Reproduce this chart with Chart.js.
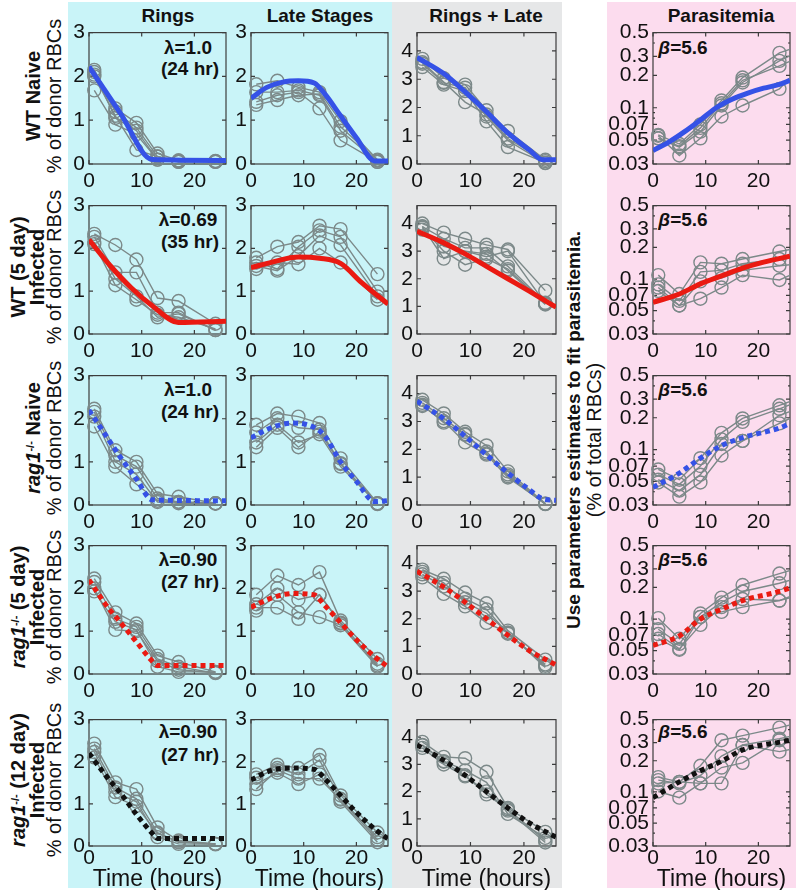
<!DOCTYPE html>
<html>
<head>
<meta charset="utf-8">
<script src="https://cdn.jsdelivr.net/npm/chart.js@4.4.1/dist/chart.umd.min.js"></script>
<style>
body { margin:0; width:796px; height:890px; position:relative; background:#fff; overflow:hidden;
  font-family:"Liberation Sans", Arial, sans-serif; color:#111; }
.bg { position:absolute; top:2px; height:886px; }
.txt { position:absolute; white-space:nowrap; transform:translate(-50%,-50%); font-size:20px; line-height:1; }
.rot { transform:translate(-50%,-50%) rotate(-90deg); }
.b { font-weight:bold; }
.ttl { font-weight:bold; font-size:19px; }
.ann { font-weight:bold; font-size:19px; }
sup { font-size:11px; vertical-align:6px; }
canvas { position:absolute; }
</style>
</head>
<body>
<div class="bg" style="left:68px;width:324px;background:#c9f4f8"></div>
<div class="bg" style="left:392px;width:170px;background:#e6e7e8"></div>
<div class="bg" style="left:607px;width:189px;background:#fcdcee"></div>

<!-- column titles -->
<div class="txt ttl" style="left:168px;top:15px">Rings</div>
<div class="txt ttl" style="left:320px;top:15px">Late Stages</div>
<div class="txt ttl" style="left:486px;top:15px">Rings + Late</div>
<div class="txt ttl" style="left:721px;top:15px">Parasitemia</div>

<!-- row labels -->
<div class="txt rot b" style="left:33px;top:96px">WT Naive</div>
<div class="txt rot" style="left:54px;top:96px">% of donor RBCs</div>

<div class="txt rot b" style="left:18px;top:267px">WT (5 day)</div>
<div class="txt rot b" style="left:37px;top:267px">Infected</div>
<div class="txt rot" style="left:54px;top:267px">% of donor RBCs</div>

<div class="txt rot b" style="left:33px;top:438px"><i>rag1</i><sup>-/-</sup> Naive</div>
<div class="txt rot" style="left:54px;top:438px">% of donor RBCs</div>

<div class="txt rot b" style="left:18px;top:607px"><i>rag1</i><sup>-/-</sup> (5 day)</div>
<div class="txt rot b" style="left:37px;top:607px">Infected</div>
<div class="txt rot" style="left:54px;top:607px">% of donor RBCs</div>

<div class="txt rot b" style="left:18px;top:780px"><i>rag1</i><sup>-/-</sup> (12 day)</div>
<div class="txt rot b" style="left:37px;top:780px">Infected</div>
<div class="txt rot" style="left:54px;top:780px">% of donor RBCs</div>

<div class="txt rot b" style="left:573px;top:430px;font-size:19px">Use parameters estimates to fit parasitemia.</div>
<div class="txt rot" style="left:594px;top:440px">(% of total RBCs)</div>

<!-- lambda / beta annotations -->
<div class="txt ann" style="left:188px;top:47px">λ=1.0</div>
<div class="txt ann" style="left:190px;top:68px">(24 hr)</div>
<div class="txt ann" style="left:188px;top:219px">λ=0.69</div>
<div class="txt ann" style="left:190px;top:241px">(35 hr)</div>
<div class="txt ann" style="left:188px;top:389px">λ=1.0</div>
<div class="txt ann" style="left:190px;top:411px">(24 hr)</div>
<div class="txt ann" style="left:188px;top:559px">λ=0.90</div>
<div class="txt ann" style="left:190px;top:581px">(27 hr)</div>
<div class="txt ann" style="left:188px;top:731px">λ=0.90</div>
<div class="txt ann" style="left:190px;top:754px">(27 hr)</div>

<div class="txt ann" style="left:683px;top:47px"><i>β</i>=5.6</div>
<div class="txt ann" style="left:683px;top:219px"><i>β</i>=5.6</div>
<div class="txt ann" style="left:683px;top:389px"><i>β</i>=5.6</div>
<div class="txt ann" style="left:683px;top:559px"><i>β</i>=5.6</div>
<div class="txt ann" style="left:683px;top:731px"><i>β</i>=5.6</div>

<script>
// sampling times (hours) and axis ticks
const TIMES = [1, 5, 9, 13, 17, 24];
const TIMES_PARA = [1, 5, 9, 13, 17, 24, 28];
const X_TICKS = [0, 10, 20];
const Y_TICKS_STAGE = [0, 1, 2, 3];
const Y_TICKS_TOTAL = [0, 1, 2, 3, 4];
const Y_TICKS_PARA = [0.03, 0.05, 0.07, 0.1, 0.2, 0.3, 0.5];
const Y_MINOR_PARA = [0.04, 0.06, 0.08, 0.09, 0.4];

// ---- WT naive ----
const wtNaiveRings = [
  [2.15, 1.27, 0.94, 0.24, 0.08, 0.06],
  [2.04, 1.20, 0.83, 0.17, 0.05, 0.06],
  [2.10, 1.05, 0.76, 0.10, 0.08, 0.05],
  [1.68, 0.90, 0.68, 0.10, 0.05, 0.07],
  [2.00, 1.10, 0.32, 0.17, 0.06, 0.05]
];
const wtNaiveLate = [
  [1.82, 1.90, 1.75, 1.64, 0.98, 0.10],
  [1.64, 1.64, 1.68, 1.57, 0.76, 0.05],
  [1.42, 1.57, 1.64, 1.27, 0.54, 0.05],
  [1.35, 1.46, 1.57, 1.60, 0.85, 0.08]
];
const wtNaiveTotal = [
  [3.72, 3.04, 2.81, 1.90, 1.17, 0.15],
  [3.55, 2.87, 2.70, 1.68, 0.83, 0.03],
  [3.43, 2.81, 2.58, 1.51, 0.60, 0.05],
  [3.60, 2.90, 2.19, 1.75, 0.90, 0.10]
];
const wtNaivePara = [
  [0.056, 0.046, 0.070, 0.117, 0.191, 0.324, 0.38],
  [0.052, 0.043, 0.060, 0.105, 0.172, 0.273, 0.34],
  [0.055, 0.036, 0.052, 0.083, 0.105, 0.150, 0.24],
  [0.052, 0.044, 0.065, 0.110, 0.180, 0.245, 0.30]
];
const wtNaiveFit = {
  rings: [[0, 2.22], [6, 1.15], [12, 0.1], [26, 0.08]],
  late: [[0, 1.5], [3, 1.75], [6, 1.87], [9, 1.9], [12, 1.85], [14, 1.6], [17, 1.1], [20, 0.6], [23.5, 0.07], [26, 0.07]],
  total: [[0, 3.77], [5, 3.2], [9, 2.55], [13, 1.85], [17, 1.1], [21, 0.5], [23.5, 0.15], [26, 0.15]],
  para: [[0, 0.04], [3, 0.048], [6, 0.06], [9, 0.077], [12, 0.1], [15, 0.12], [18, 0.137], [21, 0.152], [24, 0.165], [26, 0.18]]
};

// ---- WT 5 day infected ----
const wt5Rings = [
  [2.34, 2.08, 1.74, 0.84, 0.77, 0.24],
  [2.27, 1.44, 1.44, 0.50, 0.50, 0.09],
  [2.15, 1.29, 0.88, 0.39, 0.47, 0.09],
  [2.10, 1.14, 0.80, 0.45, 0.39, 0.12]
];
const wt5Late = [
  [1.78, 2.04, 2.15, 2.53, 2.45, 1.40],
  [1.67, 1.52, 2.04, 2.42, 2.27, 0.99],
  [1.59, 1.48, 1.82, 2.30, 2.08, 0.88],
  [1.52, 1.67, 1.63, 2.00, 1.67, 0.80]
];
const wt5Total = [
  [4.00, 3.67, 3.45, 3.23, 3.06, 1.57],
  [3.89, 3.45, 3.12, 3.12, 2.45, 1.13],
  [3.78, 3.17, 3.00, 2.90, 2.29, 1.07],
  [3.85, 3.00, 2.51, 2.73, 2.35, 1.10],
  [3.90, 2.73, 3.00, 2.80, 3.00, 1.10]
];
const wt5Para = [
  [0.109, 0.072, 0.144, 0.140, 0.155, 0.183, 0.20],
  [0.089, 0.062, 0.117, 0.121, 0.140, 0.155, 0.17],
  [0.083, 0.056, 0.095, 0.102, 0.121, 0.134, 0.14],
  [0.077, 0.056, 0.065, 0.083, 0.109, 0.098, 0.12]
];
const wt5Fit = {
  rings: [[0, 2.2], [4, 1.6], [8, 1.08], [12, 0.66], [17, 0.27], [26, 0.3]],
  late: [[0, 1.55], [4, 1.68], [9, 1.8], [13, 1.77], [17, 1.65], [21, 1.2], [26, 0.7]],
  total: [[0, 3.72], [5, 3.3], [9, 2.9], [13, 2.45], [17, 2.0], [21, 1.55], [26, 0.97]],
  para: [[0, 0.06], [5, 0.072], [9, 0.09], [13, 0.107], [17, 0.127], [21, 0.145], [26, 0.165]]
};

// ---- rag1-/- naive ----
const ragNaiveRings = [
  [2.23, 1.27, 1.00, 0.26, 0.19, 0.04],
  [2.16, 1.15, 0.89, 0.15, 0.07, 0.04],
  [2.05, 1.00, 0.71, 0.07, 0.04, 0.03],
  [1.82, 0.89, 0.48, 0.10, 0.07, 0.04]
];
const ragNaiveLate = [
  [1.86, 2.12, 2.05, 1.90, 1.08, 0.04],
  [1.68, 2.01, 1.79, 1.75, 0.97, 0.02],
  [1.45, 1.86, 1.45, 1.64, 0.89, 0.03],
  [1.34, 1.79, 1.34, 1.70, 0.95, 0.04]
];
const ragNaiveTotal = [
  [3.78, 3.29, 2.63, 2.14, 1.21, 0.05],
  [3.67, 3.12, 2.52, 1.92, 1.04, 0.03],
  [3.56, 3.01, 2.25, 1.81, 0.99, 0.05],
  [3.60, 2.96, 2.55, 1.85, 1.10, 0.04]
];
const ragNaivePara = [
  [0.065, 0.052, 0.083, 0.144, 0.197, 0.262, 0.31],
  [0.058, 0.047, 0.070, 0.125, 0.183, 0.243, 0.29],
  [0.052, 0.041, 0.058, 0.113, 0.121, 0.211, 0.25],
  [0.049, 0.036, 0.049, 0.088, 0.121, 0.177, 0.22]
];
const ragNaiveFit = {
  rings: [[0, 2.2], [3, 1.65], [6, 1.1], [9, 0.6], [12, 0.12], [26, 0.1]],
  late: [[0, 1.56], [4, 1.8], [8, 1.9], [12, 1.8], [14, 1.6], [17, 1.0], [20, 0.55], [23.5, 0.08], [26, 0.1]],
  total: [[0, 3.73], [5, 3.1], [9, 2.47], [13, 1.8], [17, 1.15], [21, 0.55], [23.5, 0.22], [26, 0.17]],
  para: [[0, 0.044], [5, 0.06], [9, 0.083], [13, 0.109], [17, 0.13], [24, 0.16], [26, 0.177]]
};

// ---- rag1-/- 5 day infected ----
const rag5Rings = [
  [2.23, 1.44, 1.18, 0.43, 0.28, 0.05],
  [2.15, 1.29, 1.10, 0.35, 0.17, 0.02],
  [1.93, 1.22, 1.03, 0.17, 0.05, 0.05],
  [2.00, 1.03, 1.00, 0.30, 0.10, 0.03]
];
const rag5Late = [
  [1.85, 2.30, 2.08, 2.38, 1.25, 0.35],
  [1.63, 2.00, 1.74, 1.85, 1.18, 0.24],
  [1.48, 1.85, 1.44, 1.33, 1.14, 0.17],
  [1.55, 1.55, 1.29, 1.85, 1.20, 0.20]
];
const rag5Total = [
  [3.78, 3.45, 2.95, 2.56, 1.57, 0.52],
  [3.61, 3.17, 2.73, 2.34, 1.46, 0.35],
  [3.50, 2.90, 2.45, 1.85, 1.50, 0.24],
  [3.70, 3.30, 2.60, 2.20, 1.50, 0.30]
];
const rag5Para = [
  [0.102, 0.065, 0.113, 0.160, 0.211, 0.271, 0.31],
  [0.080, 0.058, 0.105, 0.144, 0.183, 0.219, 0.25],
  [0.072, 0.052, 0.088, 0.130, 0.155, 0.150, 0.18],
  [0.065, 0.051, 0.105, 0.117, 0.130, 0.150, 0.17]
];
const rag5Fit = {
  rings: [[0, 2.2], [3, 1.65], [6, 1.2], [9, 0.75], [12, 0.3], [13, 0.2], [26, 0.2]],
  late: [[0, 1.56], [4, 1.78], [8, 1.88], [12, 1.85], [14, 1.6], [17, 1.2], [20, 0.8], [24, 0.35], [26, 0.17]],
  total: [[0, 3.72], [5, 3.15], [9, 2.6], [13, 2.0], [17, 1.4], [21, 0.85], [26, 0.33]],
  para: [[0, 0.056], [5, 0.069], [9, 0.1], [13, 0.124], [17, 0.15], [24, 0.183], [26, 0.198]]
};

// ---- rag1-/- 12 day infected ----
const rag12Rings = [
  [2.43, 1.51, 1.35, 0.44, 0.13, 0.05],
  [2.31, 1.39, 1.12, 0.32, 0.09, 0.05],
  [2.23, 1.28, 1.05, 0.21, 0.05, 0.04],
  [2.10, 1.16, 0.95, 0.30, 0.10, 0.05]
];
const rag12Late = [
  [1.70, 1.93, 1.85, 2.16, 1.20, 0.32],
  [1.62, 1.85, 1.70, 2.04, 1.12, 0.21],
  [1.47, 1.74, 1.47, 1.70, 1.05, 0.09],
  [1.35, 1.80, 1.60, 1.60, 1.10, 0.15]
];
const rag12Total = [
  [3.83, 3.28, 3.23, 2.73, 1.40, 0.52],
  [3.72, 3.12, 2.78, 2.34, 1.18, 0.30],
  [3.61, 3.00, 2.56, 2.01, 1.30, 0.13],
  [3.70, 3.10, 2.60, 1.90, 1.35, 0.20]
];
const rag12Para = [
  [0.139, 0.125, 0.179, 0.316, 0.350, 0.418, 0.47],
  [0.130, 0.121, 0.144, 0.222, 0.284, 0.327, 0.36],
  [0.121, 0.125, 0.121, 0.172, 0.191, 0.316, 0.33],
  [0.101, 0.088, 0.121, 0.121, 0.284, 0.245, 0.27]
];
const rag12Fit = {
  rings: [[0, 2.2], [3, 1.7], [6, 1.25], [9, 0.75], [12, 0.3], [13, 0.18], [26, 0.18]],
  late: [[0, 1.57], [4, 1.8], [8, 1.85], [12, 1.82], [14, 1.6], [17, 1.2], [20, 0.8], [24, 0.35], [26, 0.17]],
  total: [[0, 3.72], [5, 3.15], [9, 2.6], [13, 2.0], [17, 1.4], [21, 0.85], [26, 0.33]],
  para: [[0, 0.088], [5, 0.125], [9, 0.16], [13, 0.198], [17, 0.255], [24, 0.303], [26, 0.316]]
};

// one entry per row: replicate data for the four columns, fit curves, fit style
const ROWS = [
  { reps: [wtNaiveRings, wtNaiveLate, wtNaiveTotal, wtNaivePara], fit: wtNaiveFit, color: '#3552e6', dotted: false },
  { reps: [wt5Rings, wt5Late, wt5Total, wt5Para], fit: wt5Fit, color: '#ea1a12', dotted: false },
  { reps: [ragNaiveRings, ragNaiveLate, ragNaiveTotal, ragNaivePara], fit: ragNaiveFit, color: '#3552e6', dotted: true },
  { reps: [rag5Rings, rag5Late, rag5Total, rag5Para], fit: rag5Fit, color: '#ea1a12', dotted: true },
  { reps: [rag12Rings, rag12Late, rag12Total, rag12Para], fit: rag12Fit, color: '#111111', dotted: true }
];
const FIT_KEYS = ['rings', 'late', 'total', 'para'];

// layout (pixels)
const COL_LEFT = [89, 251, 417, 653];
const COL_W = [137, 137, 139, 137];
const ROW_TOP = [28, 201, 371, 541, 715];
const ROW_H = [136, 133, 134, 133, 131];
const AXIS_W = [24, 24, 24, 50];
const PAD_TOP = 12, PAD_RIGHT = 12;

const GRAY = 'rgb(124,137,137)';
const AXIS_COLOR = '#3c3c3c';

Chart.defaults.font.family = '"Liberation Sans", Arial, sans-serif';
Chart.defaults.color = '#111';

// matlab-like box with inward ticks on all four sides
const boxPlugin = {
  id: 'box',
  beforeDatasetsDraw(chart) {
    const { ctx, chartArea: a, scales } = chart;
    ctx.save();
    ctx.strokeStyle = AXIS_COLOR;
    ctx.lineWidth = 1.2;
    ctx.strokeRect(a.left, a.top, a.right - a.left, a.bottom - a.top);
    ctx.beginPath();
    scales.x.ticks.forEach(t => {
      const px = scales.x.getPixelForValue(t.value);
      ctx.moveTo(px, a.bottom); ctx.lineTo(px, a.bottom - 4);
      ctx.moveTo(px, a.top); ctx.lineTo(px, a.top + 4);
    });
    scales.y.ticks.forEach(t => {
      const py = scales.y.getPixelForValue(t.value);
      ctx.moveTo(a.left, py); ctx.lineTo(a.left + 4, py);
      ctx.moveTo(a.right, py); ctx.lineTo(a.right - 4, py);
    });
    if (scales.y.type === 'logarithmic') {
      Y_MINOR_PARA.forEach(v => {
        const py = scales.y.getPixelForValue(v);
        ctx.moveTo(a.left, py); ctx.lineTo(a.left + 2, py);
        ctx.moveTo(a.right, py); ctx.lineTo(a.right - 2, py);
      });
    }
    ctx.stroke();
    ctx.restore();
  }
};

function makePanel(r, c) {
  const row = ROWS[r];
  const last = r === ROWS.length - 1;
  const xh = last ? 47 : 30;
  const w = AXIS_W[c] + COL_W[c] + PAD_RIGHT;
  const h = PAD_TOP + ROW_H[r] + xh;
  const canvas = document.createElement('canvas');
  canvas.width = w;
  canvas.height = h;
  canvas.style.left = (COL_LEFT[c] - AXIS_W[c]) + 'px';
  canvas.style.top = (ROW_TOP[r] - PAD_TOP) + 'px';
  canvas.style.width = w + 'px';
  canvas.style.height = h + 'px';
  document.body.appendChild(canvas);

  const isPara = c === 3;
  const times = isPara ? TIMES_PARA : TIMES;
  const fitPts = row.fit[FIT_KEYS[c]];

  const datasets = [{
    data: fitPts.map(p => ({ x: p[0], y: p[1] })),
    borderColor: row.color,
    borderWidth: 5,
    borderDash: row.dotted ? [5, 4] : [],
    pointRadius: 0,
    cubicInterpolationMode: 'monotone',
    clip: 0
  }];
  row.reps[c].forEach(rep => {
    datasets.push({
      data: times.map((t, i) => ({ x: t, y: rep[i] })),
      borderColor: GRAY,
      borderWidth: 1.4,
      pointRadius: 6.5,
      pointBorderWidth: 1.4,
      pointBorderColor: GRAY,
      pointBackgroundColor: 'rgba(0,0,0,0)',
      tension: 0,
      clip: { left: 10, top: 10, right: 0, bottom: 10 }
    });
  });

  let yTicks = c === 2 ? Y_TICKS_TOTAL : Y_TICKS_STAGE;
  let yScale = { type: 'linear', min: 0, max: c === 2 ? 4.65 : 3 };
  if (isPara) {
    yTicks = Y_TICKS_PARA;
    yScale = { type: 'logarithmic', min: 0.03, max: 0.5 };
  }

  new Chart(canvas, {
    type: 'line',
    data: { datasets },
    options: {
      responsive: false,
      animation: false,
      events: [],
      layout: { padding: { top: PAD_TOP, right: PAD_RIGHT, left: 0, bottom: 0 } },
      plugins: { legend: { display: false }, tooltip: { enabled: false } },
      scales: {
        x: {
          type: 'linear', min: 0, max: 26,
          grid: { display: false, drawTicks: false },
          border: { display: false },
          afterBuildTicks: s => { s.ticks = X_TICKS.map(v => ({ value: v })); },
          afterFit: s => { s.height = xh; },
          ticks: { font: { size: 21 }, padding: last ? 0 : 5, maxRotation: 0, autoSkip: false, callback: v => String(v) },
          title: {
            display: last, text: 'Time (hours)', font: { size: 23 },
            padding: { top: 0, bottom: 0 }, color: '#111'
          }
        },
        y: Object.assign(yScale, {
          grid: { display: false, drawTicks: false },
          border: { display: false },
          afterBuildTicks: s => { s.ticks = yTicks.map(v => ({ value: v })); },
          afterFit: s => { s.width = AXIS_W[c]; },
          ticks: { font: { size: 21 }, padding: 4, autoSkip: false, callback: v => String(v) }
        })
      }
    },
    plugins: [boxPlugin]
  });
}

for (let r = 0; r < ROWS.length; r++) {
  for (let c = 0; c < 4; c++) {
    makePanel(r, c);
  }
}
</script>
</body>
</html>
